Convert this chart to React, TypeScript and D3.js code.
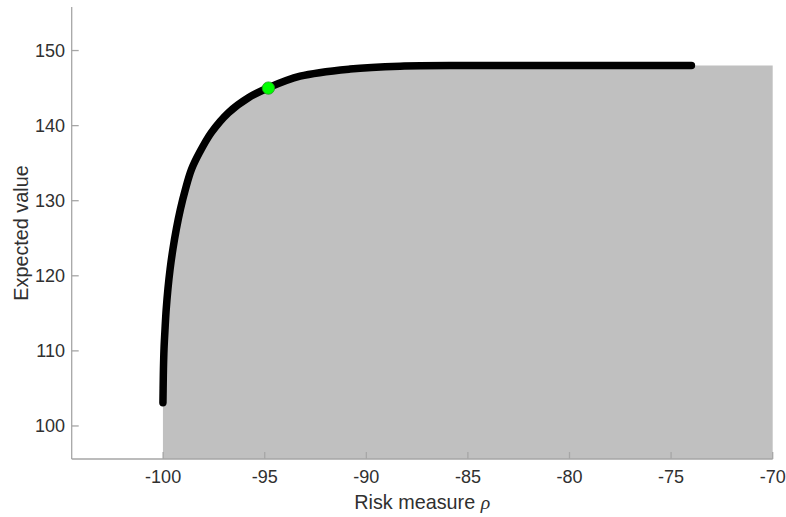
import React from "react";
import * as d3 from "d3";

const riskX = [-100.01, -100.0, -99.985, -99.956, -99.906, -99.847, -99.764, -99.656, -99.518, -99.35, -99.149, -98.903, -98.6, -98.21, -97.63, -96.786, -95.802, -94.818, -93.258, -90.797, -88.337, -85.0, -80.0, -74.0];
const expectedY = [103.1, 105.0, 107.6, 110.3, 112.95, 115.6, 118.26, 120.92, 123.57, 126.23, 128.88, 131.54, 134.2, 136.41, 139.07, 141.73, 143.72, 145.05, 146.59, 147.54, 147.92, 148.0, 148.0, 148.0];
const fillEndX = -70;
const markerX = -94.82;
const markerY = 145.0;
const xTicks = [-100, -95, -90, -85, -80, -75, -70];
const yTicks = [100, 110, 120, 130, 140, 150];

const W = 786;
const H = 517;

export default function App() {
  const x = d3.scaleLinear().domain([-104.5, -70]).range([71.7, 772.7]);
  const y = d3.scaleLinear().domain([95.6, 155.8]).range([459, 7]);
  const pts: [number, number][] = riskX.map((v, i) => [v, expectedY[i]]);
  const curve = d3.curveCatmullRom.alpha(0.5);
  const line = d3
    .line<[number, number]>()
    .x((d) => x(d[0]))
    .y((d) => y(d[1]))
    .curve(curve);
  const areaPts: [number, number][] = [...pts, [fillEndX, expectedY[expectedY.length - 1]]];
  const area = d3
    .area<[number, number]>()
    .x((d) => x(d[0]))
    .y0(y(95.6))
    .y1((d) => y(d[1]))
    .curve(curve);
  const axisColor = "#a6a6a6";
  const textColor = "#303030";
  const font = "Arial, 'Liberation Sans', Helvetica, sans-serif";
  const x0 = x.range()[0];
  const x1 = x.range()[1];
  const yb = y.range()[0];
  const yt = y.range()[1];
  return (
    <div style={{ position: "fixed", left: 0, top: 0, width: W, height: H, background: "#fff" }}>
      <svg width={W} height={H} style={{ display: "block" }}>
        <path d={area(areaPts) || ""} fill="#c0c0c0" />
        <path d={line(pts) || ""} fill="none" stroke="#000" strokeWidth={7.5} strokeLinecap="round" strokeLinejoin="round" />
        <circle cx={x(markerX)} cy={y(markerY)} r={6.2} fill="#00ff00" stroke="#1a9a1a" strokeWidth={0.8} />
        <line x1={x0} x2={x0} y1={yt} y2={yb} stroke={axisColor} strokeWidth={1.3} />
        <line x1={x0} x2={x1} y1={yb} y2={yb} stroke={axisColor} strokeWidth={1.3} />
        {xTicks.map((t) => (
          <g key={"x" + t}>
            <line x1={x(t)} x2={x(t)} y1={yb} y2={yb - 7} stroke={axisColor} strokeWidth={1.3} />
            <text x={x(t)} y={477} textAnchor="middle" dominantBaseline="central" fontFamily={font} fontSize={18} fill={textColor}>
              {t}
            </text>
          </g>
        ))}
        {yTicks.map((t) => (
          <g key={"y" + t}>
            <line x1={x0} x2={x0 + 7} y1={y(t)} y2={y(t)} stroke={axisColor} strokeWidth={1.3} />
            <text x={65} y={y(t)} textAnchor="end" dominantBaseline="central" fontFamily={font} fontSize={18} fill={textColor}>
              {t}
            </text>
          </g>
        ))}
        <text x={(x0 + x1) / 2} y={502} textAnchor="middle" dominantBaseline="central" fontFamily={font} fontSize={19.8} fill={textColor}>
          Risk measure <tspan fontStyle="italic" fontFamily="'Times New Roman', 'Liberation Serif', serif">ρ</tspan>
        </text>
        <text
          transform={`translate(21, ${(yt + yb) / 2}) rotate(-90)`}
          textAnchor="middle"
          dominantBaseline="central"
          fontFamily={font}
          fontSize={19.8}
          fill={textColor}
        >
          Expected value
        </text>
      </svg>
    </div>
  );
}
